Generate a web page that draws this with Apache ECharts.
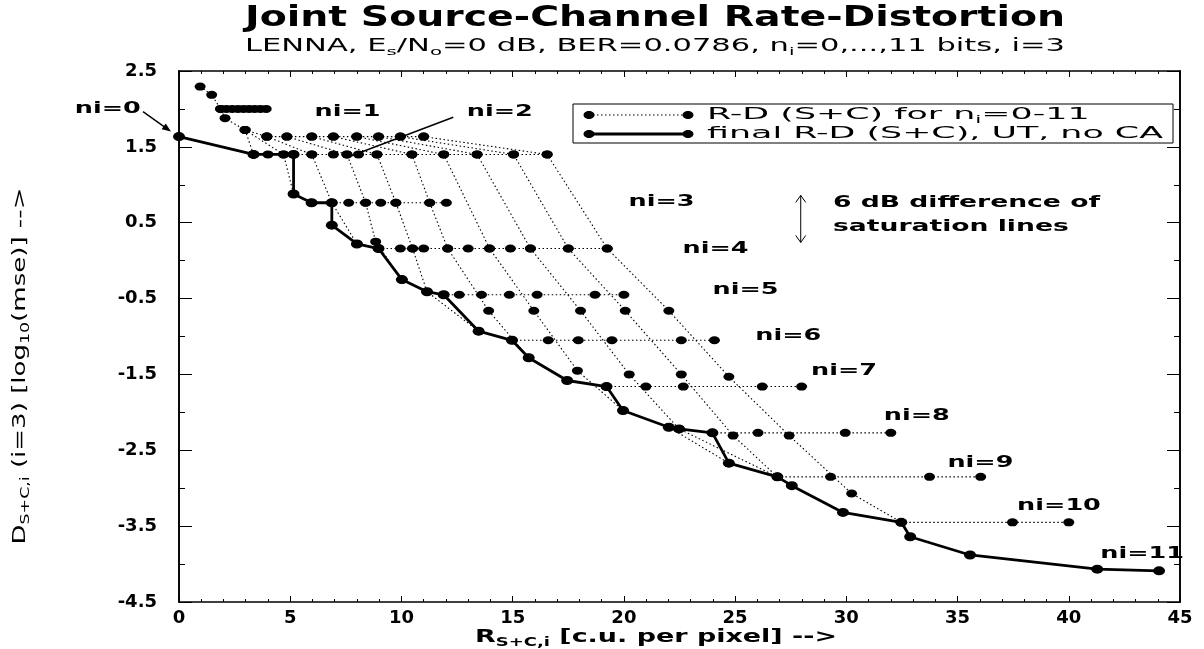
<!DOCTYPE html>
<html>
<head>
<meta charset="utf-8">
<script src="https://cdn.jsdelivr.net/npm/echarts@6/dist/echarts.min.js"></script>
<style>
  html, body { margin: 0; padding: 0; background: #fff; }
  #chart { width: 1204px; height: 649px; }
</style>
</head>
<body>
<div id="chart"></div>
<script>
// ---- data: rate R_S+C,i [c.u. per pixel] and distortion D [log10(mse)] ----

// final R-D (S+C), UT, no CA
const finalR = [0, 3.35, 5.15, 5.15, 5.96, 6.87, 6.87, 8.0, 8.97, 10.02, 11.15, 11.9, 13.47, 14.97,
  15.72, 17.45, 19.22, 19.96, 22.02, 22.48, 23.98, 24.72, 26.9, 27.55, 29.85, 32.47, 32.87, 35.56, 41.28, 44.06];
const finalD = [1.635, 1.40, 1.40, 0.878, 0.763, 0.763, 0.468, 0.22, 0.16, -0.25, -0.41, -0.45, -0.93, -1.05,
  -1.28, -1.58, -1.66, -1.975, -2.196, -2.218, -2.27, -2.67, -2.85, -2.966, -3.319, -3.45, -3.64, -3.88, -4.067, -4.089];

// horizontal rows of operating points (saturation lines), one distortion level each
const rowD = [2.0, 1.635, 1.40, 0.763, 0.16, -0.45, -1.05, -1.66, -2.27, -2.85, -3.45];
const rowR = [
  [1.87, 2.13, 2.39, 2.65, 2.9, 3.15, 3.4, 3.66, 3.92],
  [3.95, 4.85, 5.97, 6.94, 7.99, 8.97, 9.95, 11.0],
  [3.35, 4.0, 4.7, 5.15, 5.97, 6.94, 7.55, 8.07, 8.9, 10.47, 11.9, 13.4, 15.04, 16.55],
  [5.96, 6.87, 7.63, 8.39, 9.07, 9.75, 11.27, 12.02],
  [8.97, 9.95, 10.5, 11.0, 12.08, 13.0, 13.96, 14.9, 15.8, 17.5, 19.25],
  [11.9, 12.6, 13.6, 14.85, 16.1, 18.7, 20.0],
  [14.97, 16.6, 17.95, 19.46, 22.58, 24.07],
  [19.22, 20.99, 22.67, 26.22, 27.99],
  [23.98, 26.03, 29.95, 32.0],
  [26.9, 29.29, 33.74, 36.04],
  [32.47, 37.47, 40.0]
];

// first points of the n_i = 1 curve
const leadR = [0.95, 1.47, 1.87, 2.07, 2.97, 3.95];
const leadD = [2.295, 2.186, 2.0, 1.878, 1.723, 1.635];

// dotted curves running across the saturation lines
const linkR = [
  [2.97, 3.35],
  [2.97, 4.7, 5.15],
  [3.95, 5.97, 6.87, 8.0],
  [4.85, 7.55, 8.39, 8.84, 10.02],
  [5.97, 8.9, 9.75, 10.5, 11.15, 13.47],
  [6.94, 10.47, 11.27, 12.08, 13.92, 15.72],
  [7.99, 11.9, 13.96, 15.95, 17.91, 19.96, 22.02, 24.72],
  [8.97, 13.4, 15.8, 18.05, 20.24, 22.48, 26.9],
  [9.95, 15.04, 17.5, 20.06, 22.58, 24.91, 26.9],
  [11.0, 16.55, 19.25, 22.02, 24.72, 27.43, 30.24, 32.47]
];
const linkD = [
  [1.723, 1.40],
  [1.723, 1.40, 0.878],
  [1.635, 1.40, 0.763, 0.22],
  [1.635, 1.40, 0.763, 0.25, -0.25],
  [1.635, 1.40, 0.763, 0.16, -0.41, -0.93],
  [1.635, 1.40, 0.763, 0.16, -0.66, -1.28],
  [1.635, 1.40, 0.16, -0.66, -1.45, -1.975, -2.196, -2.67],
  [1.635, 1.40, 0.16, -0.66, -1.5, -2.218, -2.85],
  [1.635, 1.40, 0.16, -0.66, -1.5, -2.306, -2.85],
  [1.635, 1.40, 0.16, -0.66, -1.53, -2.306, -3.07, -3.45]
];

// axis ticks
const xTicks = [0, 5, 10, 15, 20, 25, 30, 35, 40, 45];
const yTicks = [2.5, 1.5, 0.5, -0.5, -1.5, -2.5, -3.5, -4.5];
const yMinorTicks = [2, 1, 0, -1, -2, -3, -4];

// texts
const niLabels = ['ni=0', 'ni=1', 'ni=2', 'ni=3', 'ni=4', 'ni=5', 'ni=6', 'ni=7', 'ni=8', 'ni=9', 'ni=10', 'ni=11'];
const titleText = 'Joint Source-Channel Rate-Distortion';

// ---- layout (data-space anchors for the n_i annotations) ----
const niAnchors = [[-3.2, 2.0], [7.58, 1.965], [14.42, 1.965], [21.69, 0.77], [24.12, 0.16], [25.47, -0.39],
  [27.39, -0.985], [29.9, -1.447], [33.17, -2.04], [36.03, -2.67], [39.56, -3.23], [43.3, -3.87]];

const FONT = 'DejaVu Sans';
const BLACK = '#000';

const chart = echarts.init(document.getElementById('chart'), null, { renderer: 'canvas' });

const dotted = { color: BLACK, width: 1.1, type: [1.5, 2.5] };
const dotMark = { symbol: 'circle', symbolSize: [11, 8], itemStyle: { color: BLACK } };
const series = [];

function addLine(points, lineStyle, extra) {
  series.push(Object.assign({
    type: 'line', data: points, lineStyle: lineStyle, showAllSymbol: true,
    silent: true, animation: false, emphasis: { disabled: true }, z: 3
  }, dotMark, extra || {}));
}

rowR.forEach((rs, i) => addLine(rs.map(r => [r, rowD[i]]), dotted));
addLine(leadR.map((r, i) => [r, leadD[i]]), dotted);
linkR.forEach((rs, i) => addLine(rs.map((r, j) => [r, linkD[i][j]]), dotted));
addLine(finalR.map((r, i) => [r, finalD[i]]), { color: BLACK, width: 2.8, type: 'solid' },
  { symbolSize: [12, 9], z: 5 });

const tickLabel = { color: BLACK, fontFamily: FONT, fontWeight: 'bold', fontSize: 18 };

function xAxis(pos, labels) {
  return {
    type: 'value', position: pos, min: 0, max: 45, interval: 5,
    axisLine: { show: true, onZero: false, lineStyle: { color: BLACK, width: 1.6 } },
    axisTick: { show: true, inside: true, length: 6, customValues: xTicks, lineStyle: { color: BLACK, width: 1 } },
    minorTick: { show: true, splitNumber: 5, length: 3, lineStyle: { color: BLACK, width: 1 } },
    axisLabel: Object.assign({ show: labels, margin: 7, customValues: xTicks, formatter: v => String(v) }, tickLabel),
    splitLine: { show: false }, minorSplitLine: { show: false }
  };
}
function yAxis(pos, ticks, len, labels) {
  return {
    type: 'value', position: pos, min: -4.5, max: 2.5, interval: 0.5,
    axisLine: { show: true, onZero: false, lineStyle: { color: BLACK, width: 1.6 } },
    axisTick: { show: true, inside: true, length: len, customValues: ticks, lineStyle: { color: BLACK, width: 1 } },
    axisLabel: Object.assign({ show: labels, margin: 22, customValues: yTicks, formatter: v => v.toFixed(1) }, tickLabel),
    splitLine: { show: false }
  };
}

chart.setOption({
  animation: false,
  backgroundColor: '#fff',
  grid: { left: 179, right: 24, top: 71, bottom: 47 },
  xAxis: [xAxis('bottom', true), xAxis('top', false)],
  yAxis: [yAxis('left', yTicks, 13, true), yAxis('right', yTicks, 13, false),
          yAxis('left', yMinorTicks, 6, false), yAxis('right', yMinorTicks, 6, false)],
  series: series
});

// ---- text helpers: fit a (rich) text run to a target width with a horizontal scale ----
const measureCtx = document.createElement('canvas').getContext('2d');
function runWidth(segs, size, weight) {
  let w = 0;
  segs.forEach(([t, sub]) => {
    measureCtx.font = `${weight} ${sub ? Math.round(size * 0.65) : size}px "${FONT}"`;
    w += measureCtx.measureText(t).width;
  });
  return w;
}
function textEl(segs, o) {
  const weight = o.weight || 'normal';
  const w = runWidth(segs, o.size, weight);
  const scale = o.width ? o.width / w : (o.scale || 1);
  const text = segs.map(([t, sub]) => `{${sub ? 's' : 'm'}|${t}}`).join('');
  return {
    type: 'text', x: o.x, y: o.y, rotation: o.rotation || 0, scaleX: scale, silent: true, z: 20,
    style: {
      text: text, textAlign: o.align || 'center', textVerticalAlign: 'middle', fill: BLACK,
      fontFamily: FONT, fontSize: o.size, fontWeight: weight,
      rich: {
        m: { fontFamily: FONT, fontSize: o.size, fontWeight: weight, lineHeight: o.size + 5, verticalAlign: 'middle', fill: BLACK },
        s: { fontFamily: FONT, fontSize: Math.round(o.size * 0.65), fontWeight: weight, verticalAlign: 'bottom', fill: BLACK }
      }
    }
  };
}
function scaleFor(segs, size, weight, width) { return width / runWidth(segs, size, weight); }

const px = (r, d) => chart.convertToPixel({ xAxisIndex: 0, yAxisIndex: 0 }, [r, d]);
const g = [];

// title and subtitle
g.push(textEl([[titleText]], { x: 655, y: 19, size: 28, weight: 'bold', width: 820 }));
g.push(textEl([['LENNA, E'], ['s', 1], ['/N'], ['o', 1], ['=0 dB, BER=0.0786, n'], ['i', 1], ['=0,...,11 bits, i=3']],
  { x: 655, y: 47, size: 17, weight: 'normal', width: 820 }));

// axis names
g.push(textEl([['R'], ['S+C,i', 1], [' [c.u. per pixel] -->']], { x: 656, y: 637, size: 18, weight: 'bold', width: 362 }));
g.push(textEl([['D'], ['S+C,i', 1], [' (i=3) [log'], ['10', 1], ['(mse)] -->']],
  { x: 20, y: 366, size: 18, width: 357, rotation: Math.PI / 2 }));

// n_i annotations
const niScale = scaleFor([['ni=3']], 16, 'bold', 66);
niLabels.forEach((t, i) => {
  const p = px(niAnchors[i][0], niAnchors[i][1]);
  g.push(textEl([[t]], { x: p[0], y: p[1], size: 16, weight: 'bold', scale: niScale }));
});

// arrow to the n_i = 0 point
const p0 = px(finalR[0], finalD[0]);
const tip = [p0[0] - 8, p0[1] - 5], tail = [p0[0] - 36, p0[1] - 25];
const dx = tip[0] - tail[0], dy = tip[1] - tail[1], dl = Math.hypot(dx, dy);
const ux = dx / dl, uy = dy / dl;
g.push({ type: 'line', silent: true, shape: { x1: tail[0], y1: tail[1], x2: tip[0] - ux * 6, y2: tip[1] - uy * 6 },
  style: { stroke: BLACK, lineWidth: 1.4 } });
g.push({ type: 'polygon', silent: true, shape: { points: [tip,
  [tip[0] - ux * 9 - uy * 3.5, tip[1] - uy * 9 + ux * 3.5],
  [tip[0] - ux * 9 + uy * 3.5, tip[1] - uy * 9 - ux * 3.5]] }, style: { fill: BLACK } });

// pointer from the n_i = 2 label
const q1 = px(12.33, 1.89), q2 = px(7.7, 1.376);
g.push({ type: 'line', silent: true, shape: { x1: q1[0], y1: q1[1], x2: q2[0], y2: q2[1] },
  style: { stroke: BLACK, lineWidth: 1.4 } });

// double arrow showing the 6 dB spacing
const a1 = px(27.95, 0.86), a2 = px(27.95, 0.24);
g.push({ type: 'line', silent: true, shape: { x1: a1[0], y1: a1[1], x2: a2[0], y2: a2[1] }, style: { stroke: BLACK, lineWidth: 1 } });
g.push({ type: 'polyline', silent: true, shape: { points: [[a1[0] - 5, a1[1] + 7], a1, [a1[0] + 5, a1[1] + 7]] }, style: { stroke: BLACK, lineWidth: 1, fill: null } });
g.push({ type: 'polyline', silent: true, shape: { points: [[a2[0] - 5, a2[1] - 7], a2, [a2[0] + 5, a2[1] - 7]] }, style: { stroke: BLACK, lineWidth: 1, fill: null } });
const noteScale = scaleFor([['6 dB difference of']], 16, 'bold', 267);
g.push(textEl([['6 dB difference of']], { x: 833, y: 203, size: 16, weight: 'bold', scale: noteScale, align: 'left' }));
g.push(textEl([['saturation lines']], { x: 833, y: 227, size: 16, weight: 'bold', scale: noteScale, align: 'left' }));

// legend
g.push({ type: 'rect', silent: true, shape: { x: 573, y: 104, width: 600, height: 39 }, style: { fill: '#fff', stroke: BLACK, lineWidth: 1 }, z: 15 });
function legendRow(y, lineStyle) {
  g.push({ type: 'line', silent: true, z: 16, shape: { x1: 589, y1: y, x2: 688, y2: y }, style: lineStyle });
  [589, 688].forEach(x => g.push({ type: 'ellipse', silent: true, z: 17, shape: { cx: x, cy: y, rx: 5.5, ry: 4 }, style: { fill: BLACK } }));
}
legendRow(115, { stroke: BLACK, lineWidth: 1.1, lineDash: [1.5, 2.5] });
legendRow(134, { stroke: BLACK, lineWidth: 2.8 });
const legScale = scaleFor([['final R-D (S+C), UT, no CA']], 16, 'normal', 456);
g.push(textEl([['R-D (S+C) for n'], ['i', 1], ['=0-11']], { x: 707, y: 115, size: 16, scale: legScale, align: 'left' }));
g.push(textEl([['final R-D (S+C), UT, no CA']], { x: 707, y: 134, size: 16, scale: legScale, align: 'left' }));

chart.setOption({ graphic: g });
</script>
</body>
</html>
